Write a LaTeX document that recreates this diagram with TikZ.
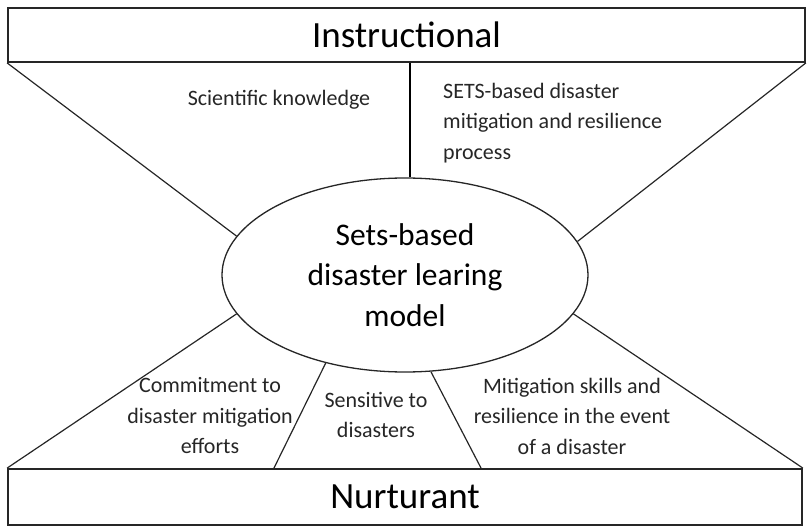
\documentclass[tikz,border=0pt]{standalone}
\usepackage{fontspec}
\setmainfont{Carlito}
\usetikzlibrary{shapes.geometric}
\begin{document}
\begin{tikzpicture}[x=1pt,y=-1pt,
  band/.style={draw=black!85, line width=1.8pt, inner sep=0pt,
    font=\fontsize{37}{44}\selectfont},
  core/.style={ellipse, draw=black!85, line width=1.3pt, inner sep=0pt,
    minimum width=366pt, minimum height=194pt, align=center,
    font=\fontsize{31.5}{40.5}\selectfont},
  label/.style={inner sep=0pt, align=center, text=black!85,
    font=\fontsize{22}{30.5}\selectfont},
  spoke/.style={draw=black!85, line width=1.2pt},
  divider/.style={draw=black, line width=2.4pt}]
\useasboundingbox (0,0) rectangle (807,527);

% upper and lower bands
\node[band, minimum width=797pt, minimum height=54pt] (instr) at (406.5,35) {Instructional};
\node[band, minimum width=794pt, minimum height=56pt] (nurt) at (405,497) {Nurturant};

% central model
\node[core] (model) at (405,275) {Sets-based\\disaster learing\\model};

% spokes from the bands to the model
\draw[spoke] (instr.south west) -- (model.167.6);
\draw[spoke] (instr.south east) -- (model.11.2);
\draw[spoke] (nurt.north west) -- (model.193.5);
\draw[spoke] (nurt.north east) -- (model.347.2);
\draw[divider] (model.87.6) -- (model.87.6 |- instr.south);

\coordinate (bl) at (274,468);
\coordinate (br) at (481,468);
\draw[spoke] (model.228.1) -- (bl);
\draw[spoke] (model.285.9) -- (br);

% labels of the sectors
\node[label] (sci) at (279,100) {Scientific knowledge};
\node[label, align=left, anchor=west] (sets) at (443,123)
  {SETS-based disaster\\mitigation and resilience\\process};
\node[label] (commit) at (210,416) {Commitment to\\disaster mitigation\\efforts};
\node[label] (sens) at (376,415) {Sensitive to\\disasters};
\node[label] (mitig) at (572,416) {Mitigation skills and\\resilience in the event\\of a disaster};
\end{tikzpicture}
\end{document}
